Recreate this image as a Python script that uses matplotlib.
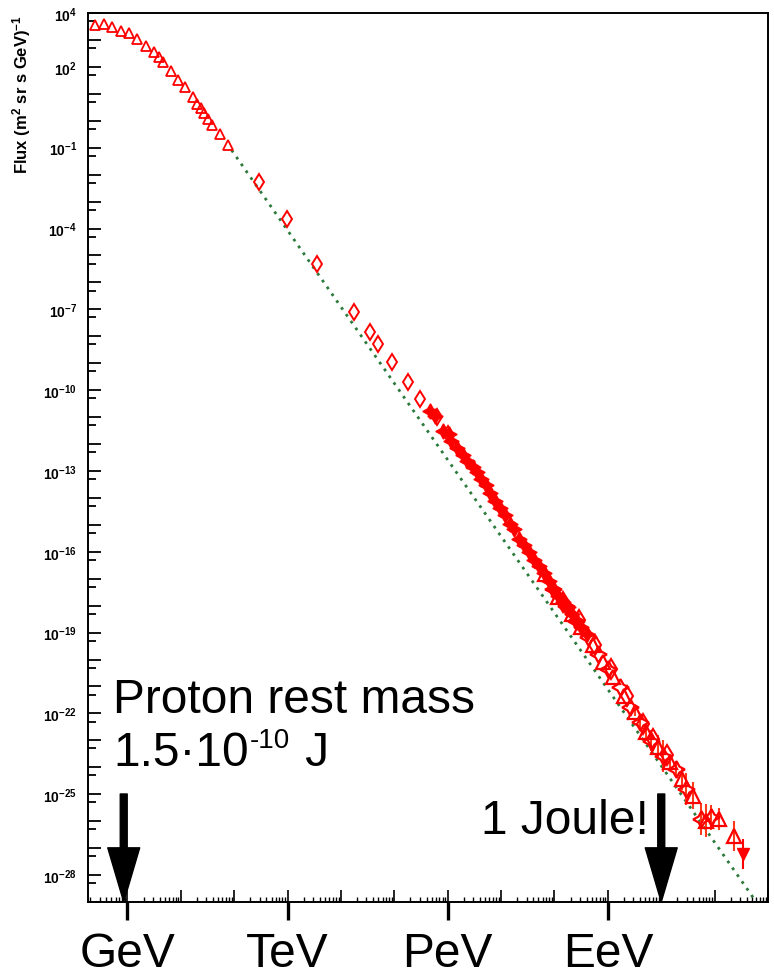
import numpy as np
import matplotlib.pyplot as plt
from matplotlib.ticker import FixedLocator, FuncFormatter, LogLocator, NullLocator

plt.rcParams['font.family'] = ['Liberation Sans', 'DejaVu Sans']
plt.rcParams['mathtext.fontset'] = 'custom'
plt.rcParams['mathtext.rm'] = 'Liberation Sans'
plt.rcParams['mathtext.it'] = 'Liberation Sans:italic'
plt.rcParams['mathtext.bf'] = 'Liberation Sans:bold'

# cosmic ray all-particle spectrum, log10(E / eV) and log10(flux)
tri_log_e = [8.39, 8.56, 8.71, 8.87, 9.03, 9.18, 9.34, 9.49, 9.59, 9.67, 9.81,
             9.95, 10.08, 10.23, 10.31, 10.37, 10.43, 10.51, 10.59, 10.73, 10.89]
tri_log_f = [3.55, 3.58, 3.49, 3.34, 3.25, 3.03, 2.79, 2.54, 2.36, 2.18, 1.86,
             1.51, 1.24, 0.87, 0.62, 0.46, 0.28, 0.07, -0.15, -0.49, -0.89]

dia_log_e = [11.47, 11.98, 12.55, 13.24, 13.55, 13.70, 13.96, 14.25, 14.48, 14.79, 15.01]
dia_log_f = [-2.28, -3.65, -5.32, -7.11, -7.83, -8.30, -8.95, -9.68, -10.33, -11.00, -11.63]

star_log_e = [14.66, 14.76, 14.91, 15.02, 15.07, 15.17, 15.28, 15.37, 15.47, 15.55, 15.63,
              15.72, 15.80, 15.89, 15.97, 16.07, 16.16, 16.25, 16.34, 16.42, 16.52, 16.61,
              16.71, 16.80, 16.90, 16.97, 17.07, 17.16, 17.25, 17.32, 17.41, 17.50, 17.60]
star_log_f = [-10.76, -10.95, -11.50, -11.63, -11.88, -12.16, -12.41, -12.64, -12.84, -13.05, -13.30,
              -13.52, -13.83, -14.10, -14.39, -14.63, -14.97, -15.15, -15.53, -15.74, -16.02, -16.30,
              -16.52, -16.80, -17.07, -17.38, -17.63, -17.87, -18.06, -18.31, -18.52, -18.80, -19.05]

hi_tri_log_e = [16.82, 17.07, 17.32, 17.50, 17.72, 17.91, 18.10, 18.31, 18.50, 18.72,
                18.94, 19.16, 19.38, 19.59, 19.84, 20.09, 20.37]
hi_tri_log_f = [-16.82, -17.69, -18.31, -18.80, -19.46, -20.10, -20.66, -21.34, -21.96, -22.70,
                -23.26, -23.81, -24.43, -25.05, -25.98, -25.92, -26.54]
hi_tri_err = [0, 0, 0, 0, 0, 0, 0, 0, 0.15, 0.2, 0.45, 0.3, 0.4, 0.5, 0.6, 0.4, 0.55]

hi_star_log_e = [16.97, 17.22, 17.41, 17.63, 17.81, 18.00, 18.22, 18.41, 18.60, 18.81,
                 19.03, 19.28, 19.47, 19.75, 19.94]
hi_star_log_f = [-17.38, -18.00, -18.56, -19.17, -19.79, -20.35, -21.03, -21.77, -22.33, -23.01,
                 -23.57, -24.06, -24.80, -25.92, -25.86]
hi_star_err = [0, 0, 0, 0, 0, 0, 0, 0, 0.2, 0.4, 0.6, 0.3, 0.6, 0.6, 0.45]

hi_dia_log_e = [17.15, 17.45, 17.75, 18.05, 18.35, 18.65, 18.85, 19.10]
hi_dia_log_f = [-17.85, -18.55, -19.45, -20.35, -21.35, -22.40, -22.95, -23.55]

last_log_e = [20.53]
last_log_f = [-27.22]
last_err = [0.55]

# E^-2.84 reference power law
fit_log_e = [10.95, 20.78]
fit_log_f = [-1.09, -29.0]

ylabel_exps = [4, 2, -1, -4, -7, -10, -13, -16, -19, -22, -25, -28]
unit_ticks = [1e9, 1e12, 1e15, 1e18]
unit_names = ['GeV', 'TeV', 'PeV', 'EeV']
proton_mass_ev = 0.85e9
joule_ev = 1e19

RED = '#ff0000'
W, H = 774, 979
BIG = 34.5

fig = plt.figure(figsize=(W / 100, H / 100), dpi=100)
ax = fig.add_axes([88 / W, 1 - 903 / H, 680 / W, 889 / H])
ax.set_xscale('log')
ax.set_yscale('log')
ax.set_xlim(10 ** 8.26, 1e21)
ax.set_ylim(1e-29, 1e4)


def p10(v):
    return 10.0 ** np.asarray(v)


def err_bars(log_f, dex):
    f = p10(log_f)
    d = np.asarray(dex)
    return [f - f * 10.0 ** -d, f * 10.0 ** d - f]


ax.plot(p10(fit_log_e), p10(fit_log_f), color='#2b7a3b', ls=(0, (1.0, 2.0)), lw=2.0, zorder=1)

ax.plot(p10(tri_log_e), p10(tri_log_f), ls='none', marker='^', ms=7.5, mfc='none', mec=RED, mew=1.3)
ax.plot(p10(dia_log_e), p10(dia_log_f), ls='none', marker='d', ms=8.5, mfc='none', mec=RED, mew=1.4)
ax.plot(p10(star_log_e), p10(star_log_f), ls='none', marker=(4, 1, 0), ms=11, mfc=RED, mec=RED, mew=1.0)

ax.errorbar(p10(hi_tri_log_e), p10(hi_tri_log_f), yerr=err_bars(hi_tri_log_f, hi_tri_err),
            fmt='none', ecolor='#ff3a1a', elinewidth=1.5, capsize=0)
ax.errorbar(p10(hi_star_log_e), p10(hi_star_log_f), yerr=err_bars(hi_star_log_f, hi_star_err),
            fmt='none', ecolor='#ff3a1a', elinewidth=1.5, capsize=0)
ax.errorbar(p10(last_log_e), p10(last_log_f), yerr=err_bars(last_log_f, last_err),
            fmt='none', ecolor=RED, elinewidth=1.5, capsize=0)

ax.plot(p10(hi_tri_log_e), p10(hi_tri_log_f), ls='none', marker='^', ms=10, mfc='none', mec=RED, mew=1.6)
ax.plot(p10(hi_star_log_e), p10(hi_star_log_f), ls='none', marker=(4, 1, 0), ms=12, mfc='none', mec=RED, mew=1.6)
ax.plot(p10(hi_dia_log_e), p10(hi_dia_log_f), ls='none', marker='d', ms=10, mfc='none', mec=RED, mew=1.5)
ax.plot(p10(last_log_e), p10(last_log_f), ls='none', marker='v', ms=8.5, mfc=RED, mec=RED)

# axes frame and ticks
for sp in ax.spines.values():
    sp.set_linewidth(1.4)

ax.xaxis.set_major_locator(LogLocator(base=10, numticks=30))
ax.xaxis.set_minor_locator(LogLocator(base=10, subs=np.arange(2, 10), numticks=30))
ax.tick_params(axis='x', which='both', direction='in', labelbottom=False, top=False)
ax.tick_params(axis='x', which='major', length=8.5, width=1.2)
ax.tick_params(axis='x', which='minor', length=3.8, width=1.0)

ax.yaxis.set_major_locator(FixedLocator(p10(np.arange(-29, 5))))
ax.yaxis.set_minor_locator(FixedLocator(5 * p10(np.arange(-30, 4))))
ax.yaxis.set_major_formatter(FuncFormatter(
    lambda v, _: r'$\mathbf{10^{%d}}$' % round(np.log10(v)) if round(np.log10(v)) in ylabel_exps else ''))
ax.tick_params(axis='y', which='both', direction='in', right=False, labelsize=10, pad=8)
ax.tick_params(axis='y', which='major', length=9, width=1.3)
ax.tick_params(axis='y', which='minor', length=5.5, width=1.3)

# energy scale markers below the axis
sec = ax.secondary_xaxis('bottom')
sec.set_xticks(unit_ticks, labels=unit_names)
sec.xaxis.set_minor_locator(NullLocator())
sec.spines['bottom'].set_visible(False)
sec.tick_params(axis='x', direction='out', length=13, width=2.4, labelsize=BIG, pad=8)

fig.text(22 / W, 1 - 95 / H, r'Flux (m$^\mathbf{2}$ sr s GeV)$^\mathbf{-1}$', rotation=90,
         fontsize=12, fontweight='bold', ha='center', va='center')

# arrows
for xe in (proton_mass_ev, joule_ev):
    ax.annotate('', xy=(xe, 0.0), xytext=(xe, 0.1215),
                xycoords=('data', 'axes fraction'), textcoords=('data', 'axes fraction'),
                arrowprops=dict(facecolor='black', edgecolor='black', width=5,
                                headwidth=23, headlength=39, shrink=0.0),
                annotation_clip=False)

fig.text(113 / W, 1 - 713 / H, 'Proton rest mass', fontsize=BIG, va='baseline', ha='left')
base = fig.text(113 / W, 1 - 766 / H, '1.5·10', fontsize=BIG, va='baseline', ha='left')
expo = fig.text(0, 0, '-10', fontsize=20, va='top', ha='left')
fig.canvas.draw()
bb = base.get_window_extent()
expo.set_position(((bb.x1 + 1) / W, (bb.y1 + 3) / H))
fig.canvas.draw()
eb = expo.get_window_extent()
fig.text((eb.x1 + 2) / W, 1 - 766 / H, ' J', fontsize=BIG, va='baseline', ha='left')
fig.text(481 / W, 1 - 834 / H, '1 Joule!', fontsize=BIG, va='baseline', ha='left')

fig.savefig('out.png', dpi=100, facecolor='white')
